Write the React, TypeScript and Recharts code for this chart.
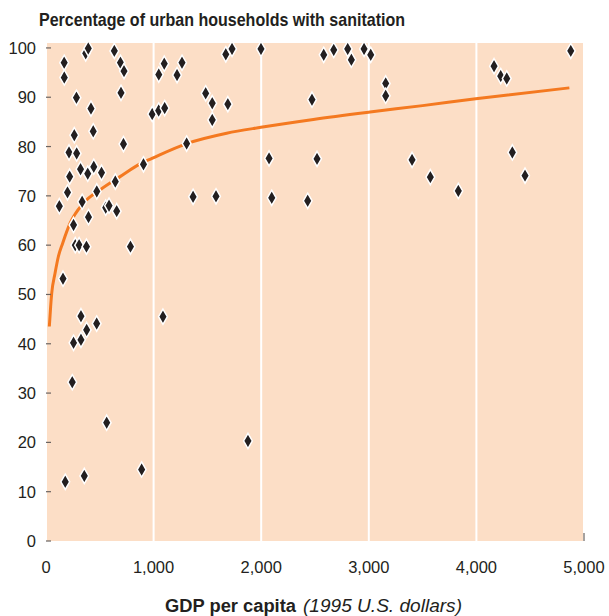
import React from "react";
import { ComposedChart, Line, Scatter, XAxis, YAxis, CartesianGrid } from "recharts";

const gdp = [
  124, 169, 170, 200, 214, 220, 263, 283, 285, 321, 336, 256, 369, 393, 388, 395, 418, 439, 444, 472,
  516, 555, 586, 635, 644, 657, 692, 697, 725, 720, 906, 987, 1047, 1048, 1099, 1103, 1218, 1264, 1307, 1367,
  272, 308, 376, 785, 158, 325, 378, 471, 256, 325, 1087, 244, 564, 179, 356, 889,
  1484, 1545, 1545, 1690, 1671, 1729, 1580, 1998, 1877, 2073, 2098, 2472, 2519, 2432,
  2581, 2674, 2804, 2838, 2956, 3018, 3157, 3157, 3402, 3572, 3832, 4164, 4226, 4282, 4334, 4452, 4877,
];
const sanitation = [
  67.9, 97.0, 94.0, 70.7, 78.8, 73.9, 82.3, 89.9, 78.6, 75.4, 68.8, 64.1, 98.9, 99.9, 74.5, 65.7, 87.7, 83.1, 75.9, 70.9,
  74.7, 67.6, 68.0, 99.4, 72.9, 66.9, 97.0, 90.9, 95.3, 80.5, 76.4, 86.6, 87.3, 94.6, 96.8, 87.8, 94.5, 97.0, 80.6, 69.8,
  60.0, 60.0, 59.7, 59.7, 53.2, 45.6, 42.8, 44.1, 40.2, 40.8, 45.5, 32.2, 24.0, 12.0, 13.2, 14.5,
  90.8, 88.8, 85.4, 88.6, 98.7, 99.8, 69.9, 99.8, 20.3, 77.6, 69.6, 89.5, 77.5, 69.0,
  98.6, 99.6, 99.8, 97.6, 99.8, 98.6, 92.8, 90.3, 77.3, 73.8, 71.0, 96.3, 94.3, 93.8, 78.8, 74.1, 99.4,
];

const trendGdp = [31, 43, 53, 84, 115, 155, 223, 347, 502, 688, 874, 985, 1308, 1679, 1998, 2485, 3011, 3500, 3994, 4864];
const trendPct = [43.5, 47.5, 50.2, 54.3, 57.7, 60.4, 64.4, 68.5, 71.2, 73.9, 76.5, 77.6, 80.6, 82.7, 83.9, 85.5, 87.0, 88.3, 89.7, 91.9];

const xTicks = [0, 1000, 2000, 3000, 4000, 5000];
const yTicks = [0, 10, 20, 30, 40, 50, 60, 70, 80, 90, 100];

const points = gdp.map((x, i) => ({ x, y: sanitation[i] }));
const trend = trendGdp.map((x, i) => ({ x, t: trendPct[i] }));

const FONT = '"Liberation Sans", Arial, Helvetica, sans-serif';
const INK = "#231f20";
const PEACH = "#FCDEC6";
const ORANGE = "#F47920";

const Diamond = (props: any) => {
  const { cx, cy } = props;
  if (cx == null || cy == null) return null;
  const w = 4.4;
  const h = 7.6;
  return (
    <polygon
      points={`${cx},${cy - h} ${cx + w},${cy} ${cx},${cy + h} ${cx - w},${cy}`}
      fill={INK}
      stroke="#ffffff"
      strokeWidth={1.5}
      strokeLinejoin="miter"
    />
  );
};

const YTick = (props: any) => {
  const { x, y, payload } = props;
  return (
    <g>
      <line x1={x + 10} x2={x + 15} y1={y} y2={y} stroke="#6b6461" strokeWidth={1.2} />
      <text x={x} y={y} dy={6} textAnchor="end" fontFamily={FONT} fontSize={16.5} fill={INK}>
        {payload.value}
      </text>
    </g>
  );
};

const XTick = (props: any) => {
  const { x, y, payload } = props;
  const label = Number(payload.value).toLocaleString("en-US");
  return (
    <g>
      {payload.value === 5000 ? (
        <line x1={x} x2={x} y1={y - 20} y2={y - 28} stroke="#6b6461" strokeWidth={1.2} />
      ) : null}
      <text x={x} y={y} dy={12} textAnchor="middle" fontFamily={FONT} fontSize={16.5} fill={INK}>
        {label}
      </text>
    </g>
  );
};

export default function App() {
  return (
    <div style={{ position: "absolute", left: 0, top: 0, width: 609, height: 616, background: "#fff" }}>
      <ComposedChart
        width={609}
        height={616}
        margin={{ top: 43, right: 25, bottom: 45, left: 0 }}
        data={points}
      >
        <CartesianGrid
          horizontal={false}
          vertical={true}
          fill={PEACH}
          fillOpacity={1}
          stroke="#ffffff"
          strokeWidth={2}
        />
        <XAxis
          type="number"
          dataKey="x"
          domain={[0, 5000]}
          ticks={xTicks}
          axisLine={false}
          tickLine={false}
          tickSize={0}
          tickMargin={20}
          height={30}
          tick={<XTick />}
          interval={0}
        />
        <YAxis
          type="number"
          domain={[0, 101]}
          ticks={yTicks}
          axisLine={false}
          tickLine={false}
          tickSize={0}
          tickMargin={10}
          width={46}
          tick={<YTick />}
          interval={0}
        />
        <Line
          data={trend}
          dataKey="t"
          type="monotone"
          stroke={ORANGE}
          strokeWidth={3}
          dot={false}
          activeDot={false}
          isAnimationActive={false}
        />
        <Scatter data={points} dataKey="y" shape={<Diamond />} isAnimationActive={false} />
      </ComposedChart>
      <svg
        width={609}
        height={616}
        style={{ position: "absolute", left: 0, top: 0, pointerEvents: "none" }}
      >
        <text x={39} y={26} fontFamily={FONT} fontSize={18.5} fontWeight="bold" fill={INK} textLength={366} lengthAdjust="spacingAndGlyphs">
          Percentage of urban households with sanitation
        </text>
        <text x={165} y={612} fontFamily={FONT} fontSize={18} fontWeight="bold" fill={INK} textLength={131} lengthAdjust="spacingAndGlyphs">
          GDP per capita
        </text>
        <text x={303} y={612} fontFamily={FONT} fontSize={18} fontStyle="italic" fill={INK} textLength={159} lengthAdjust="spacingAndGlyphs">
          (1995 U.S. dollars)
        </text>
      </svg>
    </div>
  );
}
